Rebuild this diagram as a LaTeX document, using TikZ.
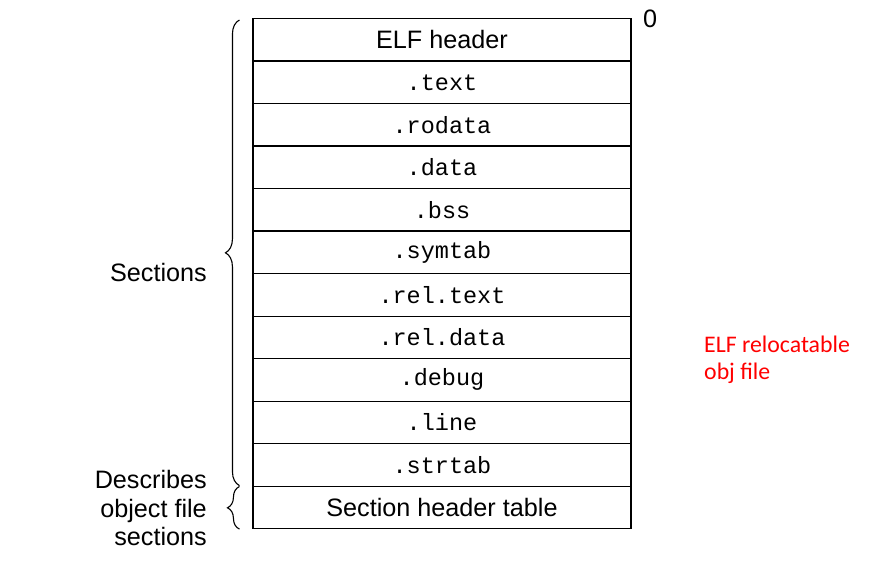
\documentclass[tikz,border=0pt]{standalone}
\usepackage{fontspec}
\setmainfont{Liberation Sans}
\setmonofont{Liberation Mono}
\newfontfamily\notefont{Carlito}
\usetikzlibrary{decorations.pathreplacing,calc}
\begin{document}
\begin{tikzpicture}[x=1pt,y=-1pt,
  rowbox/.style={draw, line width=1.1pt, minimum width=378pt, minimum height=42.5pt,
                 inner sep=0pt, anchor=north, font=\fontsize{23.5}{26}\selectfont\ttfamily},
  headbox/.style={rowbox, font=\fontsize{25.2}{28}\selectfont\rmfamily},
  bracepath/.style={draw, line width=1.1pt, decorate,
                    decoration={brace, amplitude=14pt, aspect=0.5}},
  sidelabel/.style={anchor=east, align=right, inner sep=0pt,
                    font=\fontsize{25.2}{28.5}\selectfont},
  note/.style={anchor=west, align=left, inner sep=0pt, text=red,
               font=\fontsize{23.8}{27}\selectfont\notefont}]
  \useasboundingbox (0,0) rectangle (894,580);

  % section rows of the object file
  \node[headbox] (r0)  at (442,18)    {ELF header};
  \node[rowbox]  (r1)  at (442,60.5)  {.text};
  \node[rowbox]  (r2)  at (442,103)   {.rodata};
  \node[rowbox]  (r3)  at (442,145.5) {.data};
  \node[rowbox]  (r4)  at (442,188)   {.bss};
  \node[rowbox]  (r5)  at (442,230.5) {.symtab};
  \node[rowbox]  (r6)  at (442,273)   {.rel.text};
  \node[rowbox]  (r7)  at (442,315.5) {.rel.data};
  \node[rowbox]  (r8)  at (442,358)   {.debug};
  \node[rowbox]  (r9)  at (442,400.5) {.line};
  \node[rowbox]  (r10) at (442,443)   {.strtab};
  \node[headbox] (r11) at (442,485.5) {Section header table};

  % offset marker
  \node[anchor=west, inner sep=0pt, font=\fontsize{25.2}{28}\selectfont] (zero) at (643,19) {0};

  % braces on the left
  \coordinate (b1top) at ($(r0.north west)+(-13,2)$);
  \coordinate (b1bot) at ($(r10.south west)+(-13,-1)$);
  \coordinate (b2top) at ($(r11.north west)+(-13,1)$);
  \coordinate (b2bot) at ($(r11.south west)+(-13,0)$);
  \path[bracepath] (b1bot) -- (b1top);
  \path[bracepath, decoration={amplitude=12pt}] (b2bot) -- (b2top);

  \node[sidelabel] (sec) at (207,272) {Sections};
  \node[sidelabel] (desc) at (207,508) {Describes\\object file\\sections};

  % annotation
  \node[note] (elf) at (704,360) {ELF relocatable\\obj file};
\end{tikzpicture}
\end{document}
